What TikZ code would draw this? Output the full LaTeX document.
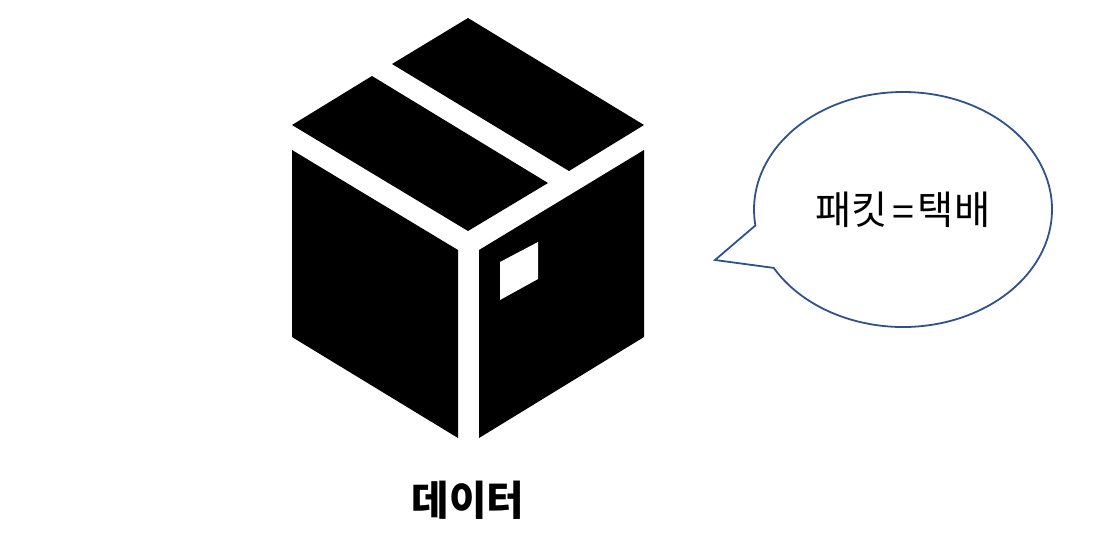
\documentclass[tikz,border=0pt]{standalone}
\usepackage{fontspec}
\setmainfont{Noto Sans CJK KR}
\usetikzlibrary{shapes.callouts}

\begin{document}
\begin{tikzpicture}
  [x=0.25mm, y=-0.25mm]
  \tikzstyle{box_face} = [fill=black];
  \tikzstyle{bubble} = [ellipse callout, draw={rgb,255:red,47;green,82;blue,143}, line width=0.45mm, inner sep=0pt, outer sep=0pt, minimum width=74.5mm, minimum height=58.75mm, callout pointer arc=22, font=\fontsize{28}{32}\selectfont];

  \useasboundingbox (0, 0) rectangle (1120, 555);

  % flaps
  \fill[box_face] (468, 18) -- (644, 125) -- (569, 171) -- (392, 64) -- cycle;
  \fill[box_face] (372, 76) -- (548, 183) -- (468, 231) -- (292, 125) -- cycle;

  % sides
  \fill[box_face] (292, 150) -- (458, 250) -- (458, 438) -- (292, 337) -- cycle;
  \fill[box_face] (644, 150) -- (479, 250) -- (479, 438) -- (644, 337) -- cycle;

  % label on the box
  \fill[white] (500, 262) -- (538, 242) -- (538, 279) -- (500, 300) -- cycle;

  \node[bubble, callout absolute pointer={(715, 260)}] (packet) at (903, 209.5) {\raisebox{-0.5mm}{패킷\hspace{1mm}\raisebox{-0.6mm}{=}\hspace{1mm}택배}};

  \node[font=\fontsize{29}{33}\selectfont\bfseries] (data) at (468, 500) {데이터};

\end{tikzpicture}
\end{document}
